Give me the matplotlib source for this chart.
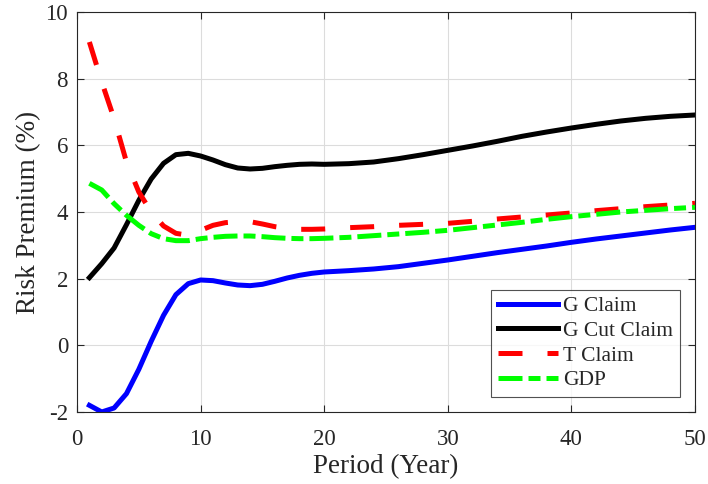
import matplotlib
matplotlib.use("Agg")
import matplotlib.pyplot as plt

plt.rcParams['font.family'] = ['Liberation Serif', 'DejaVu Serif']
plt.rcParams['axes.unicode_minus'] = False

period = [1, 2, 3, 4, 5, 6, 7, 8, 9, 10, 11, 12, 13, 14, 15, 16, 17, 18, 19, 20,
          22, 24, 26, 28, 30, 32, 34, 36, 38, 40, 42, 44, 46, 48, 50]

g_claim = [-1.80, -2.00, -1.88, -1.45, -0.72, 0.12, 0.90, 1.52, 1.85, 1.96,
           1.94, 1.87, 1.81, 1.79, 1.83, 1.92, 2.02, 2.10, 2.16, 2.20,
           2.24, 2.29, 2.36, 2.46, 2.56, 2.67, 2.78, 2.88, 2.98, 3.09,
           3.19, 3.28, 3.37, 3.46, 3.54]

g_cut_claim = [2.03, 2.45, 2.92, 3.62, 4.35, 4.99, 5.46, 5.72, 5.76, 5.68,
               5.56, 5.42, 5.32, 5.29, 5.31, 5.36, 5.40, 5.43, 5.44, 5.43,
               5.45, 5.50, 5.60, 5.72, 5.85, 5.98, 6.12, 6.27, 6.40, 6.52,
               6.63, 6.73, 6.81, 6.87, 6.91]

t_claim = [9.10, 7.90, 6.80, 5.50, 4.60, 4.00, 3.58, 3.36, 3.30, 3.45,
           3.60, 3.68, 3.71, 3.71, 3.64, 3.56, 3.51, 3.48, 3.48, 3.49,
           3.53, 3.56, 3.60, 3.63, 3.66, 3.72, 3.79, 3.85, 3.91, 3.97,
           4.04, 4.10, 4.16, 4.21, 4.26]

gdp = [4.86, 4.66, 4.25, 3.90, 3.60, 3.35, 3.20, 3.14, 3.14, 3.20,
       3.24, 3.27, 3.28, 3.28, 3.26, 3.23, 3.21, 3.20, 3.20, 3.21,
       3.24, 3.29, 3.34, 3.39, 3.45, 3.53, 3.61, 3.69, 3.78, 3.86,
       3.93, 4.00, 4.05, 4.10, 4.14]

labels = ["G Claim", "G Cut Claim", "T Claim", "GDP"]
xticks = [0, 10, 20, 30, 40, 50]
yticks = [-2, 0, 2, 4, 6, 8, 10]

fig = plt.figure(figsize=(7.08, 4.84), dpi=100)
ax = fig.add_axes([0.1088, 0.1488, 0.8728, 0.8264])

lw = 3.6
ax.plot(period, g_claim, color=(0, 0, 1), lw=lw, label=labels[0])
ax.plot(period, g_cut_claim, color='black', lw=lw, label=labels[1])
ax.plot(period, t_claim, color=(1, 0, 0), lw=lw, dashes=(4.8, 5.0), label=labels[2])
ax.plot(period, gdp, color=(0, 1, 0), lw=lw, dashes=(4.8, 1.2, 2.4, 1.2), label=labels[3])

ax.set_xlim(0, 50)
ax.set_ylim(-2, 10)
ax.set_xticks(xticks)
ax.set_yticks(yticks)
ax.grid(True, color='#dcdcdc', lw=0.8)
ax.set_axisbelow(True)
ax.tick_params(direction='in', top=True, right=True, length=5, width=0.8,
               labelsize=16.5, colors='#262626')
ax.tick_params(axis='x', pad=12.5)
ax.tick_params(axis='y', pad=6.5)
for s in ax.spines.values():
    s.set_color('#262626')
    s.set_linewidth(0.8)

ax.set_xlabel("Period (Year)", fontsize=19.5, color='#262626', labelpad=3)
ax.set_ylabel("Risk Premium (%)", fontsize=19.5, color='#262626', labelpad=3)

leg = ax.legend(loc='lower right', fontsize=15.5, frameon=True, fancybox=False,
                edgecolor='#262626', handlelength=2.8, borderaxespad=0.7,
                labelspacing=0.22, handletextpad=0.25, borderpad=0.3)
leg.get_frame().set_linewidth(0.8)
for t in leg.get_texts():
    t.set_color('#262626')

fig.savefig("out.png", dpi=100)
